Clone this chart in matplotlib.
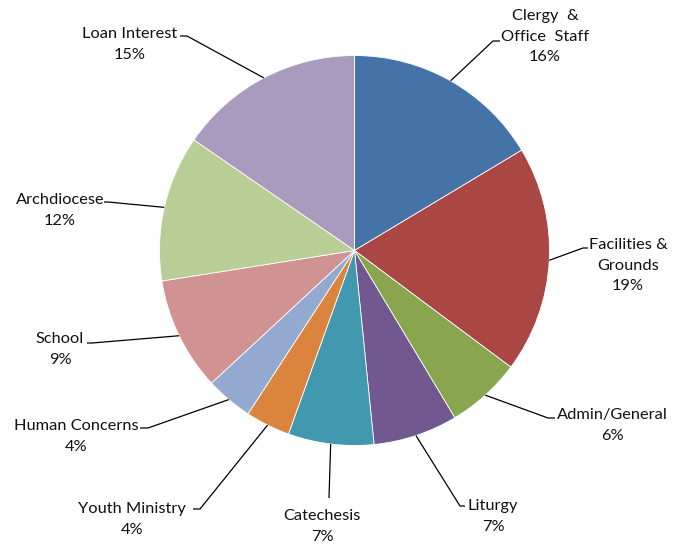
import numpy as np
import matplotlib.pyplot as plt

categories = ["Clergy  &\nOffice  Staff", "Facilities &\nGrounds", "Admin/General",
              "Liturgy", "Catechesis", "Youth Ministry", "Human Concerns",
              "School", "Archdiocese", "Loan Interest"]
shares = [16.4, 18.8, 6.2, 7.0, 7.1, 3.7, 3.9, 9.4, 12.1, 15.4]
colors = ["#4572A7", "#AA4643", "#89A54E", "#71588F", "#4198AF",
          "#DB843D", "#93A9CF", "#D19392", "#B9CD96", "#A99BBD"]

# layout in pixel coords (y down): text centre of first line, elbow, tick end
text_pos = [(545, 14), (628, 243), (612, 413), (493, 504), (322, 514),
            (132, 507), (76, 424), (60, 337), (60, 198), (130, 32)]
elbows = [((493, 41), (500, 41)), ((583, 248), (588, 248)), ((548, 418), (555, 418)),
          ((460, 506), (465, 506)), ((329, 498), (329, 498)), ((200, 509), (193, 509)),
          ((148, 428), (140, 428)), ((92, 343), (87, 343)), ((108, 202), (104, 202)),
          ((187, 36), (180, 36))]

W, H = 683, 548
fig = plt.figure(figsize=(W / 100, H / 100), dpi=100)
ax = fig.add_axes([0, 0, 1, 1])

cx, cy, r = 354.5, H - 250.5, 195
wedges, _ = ax.pie(shares, colors=colors, startangle=90, counterclock=False,
                   radius=r, center=(cx, cy), frame=True,
                   wedgeprops=dict(linewidth=0.6, edgecolor="white"))
ax.set_xlim(0, W)
ax.set_ylim(0, H)
ax.set_aspect("equal")
ax.axis("off")

for w, name, val, (tx, ty), (elb, tick) in zip(wedges, categories, shares, text_pos, elbows):
    mid = np.deg2rad((w.theta1 + w.theta2) / 2)
    sx, sy = cx + r * np.cos(mid), cy + r * np.sin(mid)
    ax.plot([sx, elb[0], tick[0]], [sy, H - elb[1], H - tick[1]],
            color="black", linewidth=0.9, solid_capstyle="butt")
    # small offset so the top of the first line sits where the reference has it
    ax.text(tx, H - ty + 5, f"{name}\n{round(val):.0f}%", ha="center", va="top",
            fontsize=11.8, family="Lato", linespacing=1.6, color="#111111")

fig.savefig("out.png", dpi=100, facecolor="white")
